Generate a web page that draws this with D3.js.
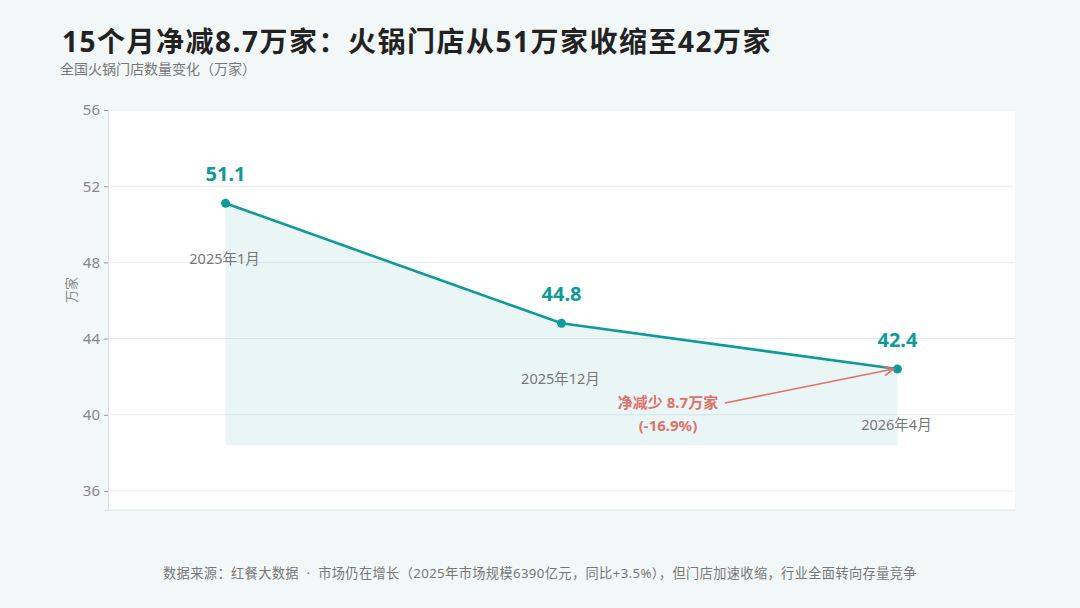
<!DOCTYPE html>
<html>
<head>
<meta charset="utf-8">
<script src="https://cdn.jsdelivr.net/npm/d3@7"></script>
<style>
  body { margin: 0; background: #f2f7f7; font-family: "Noto Sans", "Noto Sans CJK SC", sans-serif; }
  svg { display: block; }
</style>
</head>
<body>
<div id="chart"></div>
<script>
// data
var months = ["2025年1月", "2025年12月", "2026年4月"];
var stores = [51.1, 44.8, 42.4];
var yTicks = [36, 40, 44, 48, 52, 56];
var netDrop = 8.7;
var pctChange = -16.9;

var W = 1080, H = 608;
var margin = { left: 108, right: 65, top: 110, bottom: 98 };
var width = W - margin.left - margin.right;
var height = H - margin.top - margin.bottom;

var teal = "#0e9a98";
var red = "#e0706a";
var font = "'Noto Sans', 'Noto Sans CJK SC', sans-serif";

var svg = d3.select("#chart").append("svg")
    .attr("width", W)
    .attr("height", H)
    .attr("font-family", font);

svg.append("rect").attr("width", W).attr("height", H).attr("fill", "#f2f7f7");

// titles
svg.append("text")
    .attr("x", 62).attr("y", 52)
    .attr("font-size", 28).attr("font-weight", "bold").attr("fill", "#222")
    .attr("letter-spacing", 1.5)
    .text("15个月净减8.7万家：火锅门店从51万家收缩至42万家");
svg.append("text")
    .attr("x", 60).attr("y", 74)
    .attr("font-size", 14).attr("fill", "#777")
    .text("全国火锅门店数量变化（万家）");

var g = svg.append("g")
    .attr("transform", "translate(" + margin.left + "," + margin.top + ")");

g.append("rect").attr("width", width).attr("height", height).attr("fill", "#fff");

// scales
var x = d3.scalePoint().domain(months).range([0, width]).padding(0.35);
var y = d3.scaleLinear().domain([35, 56]).range([height, 0]);

// grid
g.selectAll(".grid").data(yTicks).enter().append("line")
    .attr("x1", 0).attr("x2", width)
    .attr("y1", d => y(d)).attr("y2", d => y(d))
    .attr("stroke", "#e6eced").attr("stroke-width", 1);

// axes
var yAxis = g.append("g").call(d3.axisLeft(y).tickValues(yTicks).tickSize(4).tickPadding(4));
yAxis.select(".domain").attr("stroke", "#dde3e4");
yAxis.selectAll(".tick line").attr("stroke", "#999");
yAxis.selectAll("text").attr("font-size", 15).attr("fill", "#888")
    .attr("font-family", font);

g.append("line")
    .attr("x1", 0).attr("x2", width).attr("y1", height).attr("y2", height)
    .attr("stroke", "#dde3e4");

svg.append("text")
    .attr("transform", "translate(76," + (margin.top + height / 2 - 20) + ") rotate(-90)")
    .attr("text-anchor", "middle")
    .attr("font-size", 13).attr("fill", "#888")
    .text("万家");

// area under line
var base = d3.min(stores) - 4;
var area = d3.area()
    .x((d, i) => x(months[i]))
    .y0(y(base))
    .y1(d => y(d));
g.append("path").datum(stores)
    .attr("d", area)
    .attr("fill", teal).attr("fill-opacity", 0.085);

// line
var line = d3.line().x((d, i) => x(months[i])).y(d => y(d));
g.append("path").datum(stores)
    .attr("d", line)
    .attr("fill", "none").attr("stroke", teal).attr("stroke-width", 2.6);

g.selectAll(".dot").data(stores).enter().append("circle")
    .attr("cx", (d, i) => x(months[i])).attr("cy", d => y(d))
    .attr("r", 4.5).attr("fill", teal);

g.selectAll(".val").data(stores).enter().append("text")
    .attr("x", (d, i) => x(months[i])).attr("y", d => y(d) - 22)
    .attr("text-anchor", "middle")
    .attr("font-size", 20).attr("font-weight", "bold").attr("fill", teal)
    .text(d => d.toFixed(1));

g.selectAll(".mon").data(stores).enter().append("text")
    .attr("x", (d, i) => x(months[i]) - 1).attr("y", d => y(d) + 61)
    .attr("text-anchor", "middle")
    .attr("font-size", 14.5).attr("fill", "#777")
    .text((d, i) => months[i]);

// annotation
svg.append("defs").append("marker")
    .attr("id", "arrow").attr("viewBox", "0 0 10 10")
    .attr("refX", 9).attr("refY", 5)
    .attr("markerWidth", 8).attr("markerHeight", 8)
    .attr("orient", "auto")
    .append("path").attr("d", "M1,1 L9,5 L1,9")
    .attr("fill", "none").attr("stroke", red).attr("stroke-width", 1.4);

var ax = x(months[2]), ay = y(stores[2]);
g.append("line")
    .attr("x1", 617).attr("y1", 293)
    .attr("x2", ax - 4).attr("y2", ay)
    .attr("stroke", red).attr("stroke-width", 1.5)
    .attr("marker-end", "url(#arrow)");

g.append("text")
    .attr("x", 560).attr("y", 298)
    .attr("text-anchor", "middle")
    .attr("font-size", 15).attr("font-weight", "bold").attr("fill", red)
    .text("净减少 " + netDrop.toFixed(1) + "万家");
g.append("text")
    .attr("x", 560).attr("y", 321)
    .attr("text-anchor", "middle")
    .attr("font-size", 15).attr("font-weight", "bold").attr("fill", red)
    .text("(" + pctChange.toFixed(1) + "%)");

// footer
svg.append("text")
    .attr("x", W / 2).attr("y", 578)
    .attr("text-anchor", "middle")
    .attr("font-size", 13.2).attr("fill", "#777")
    .attr("letter-spacing", 0.4)
    .attr("xml:space", "preserve")
    .text("数据来源：红餐大数据  ·  市场仍在增长（2025年市场规模6390亿元，同比+3.5%），但门店加速收缩，行业全面转向存量竞争");
</script>
</body>
</html>
